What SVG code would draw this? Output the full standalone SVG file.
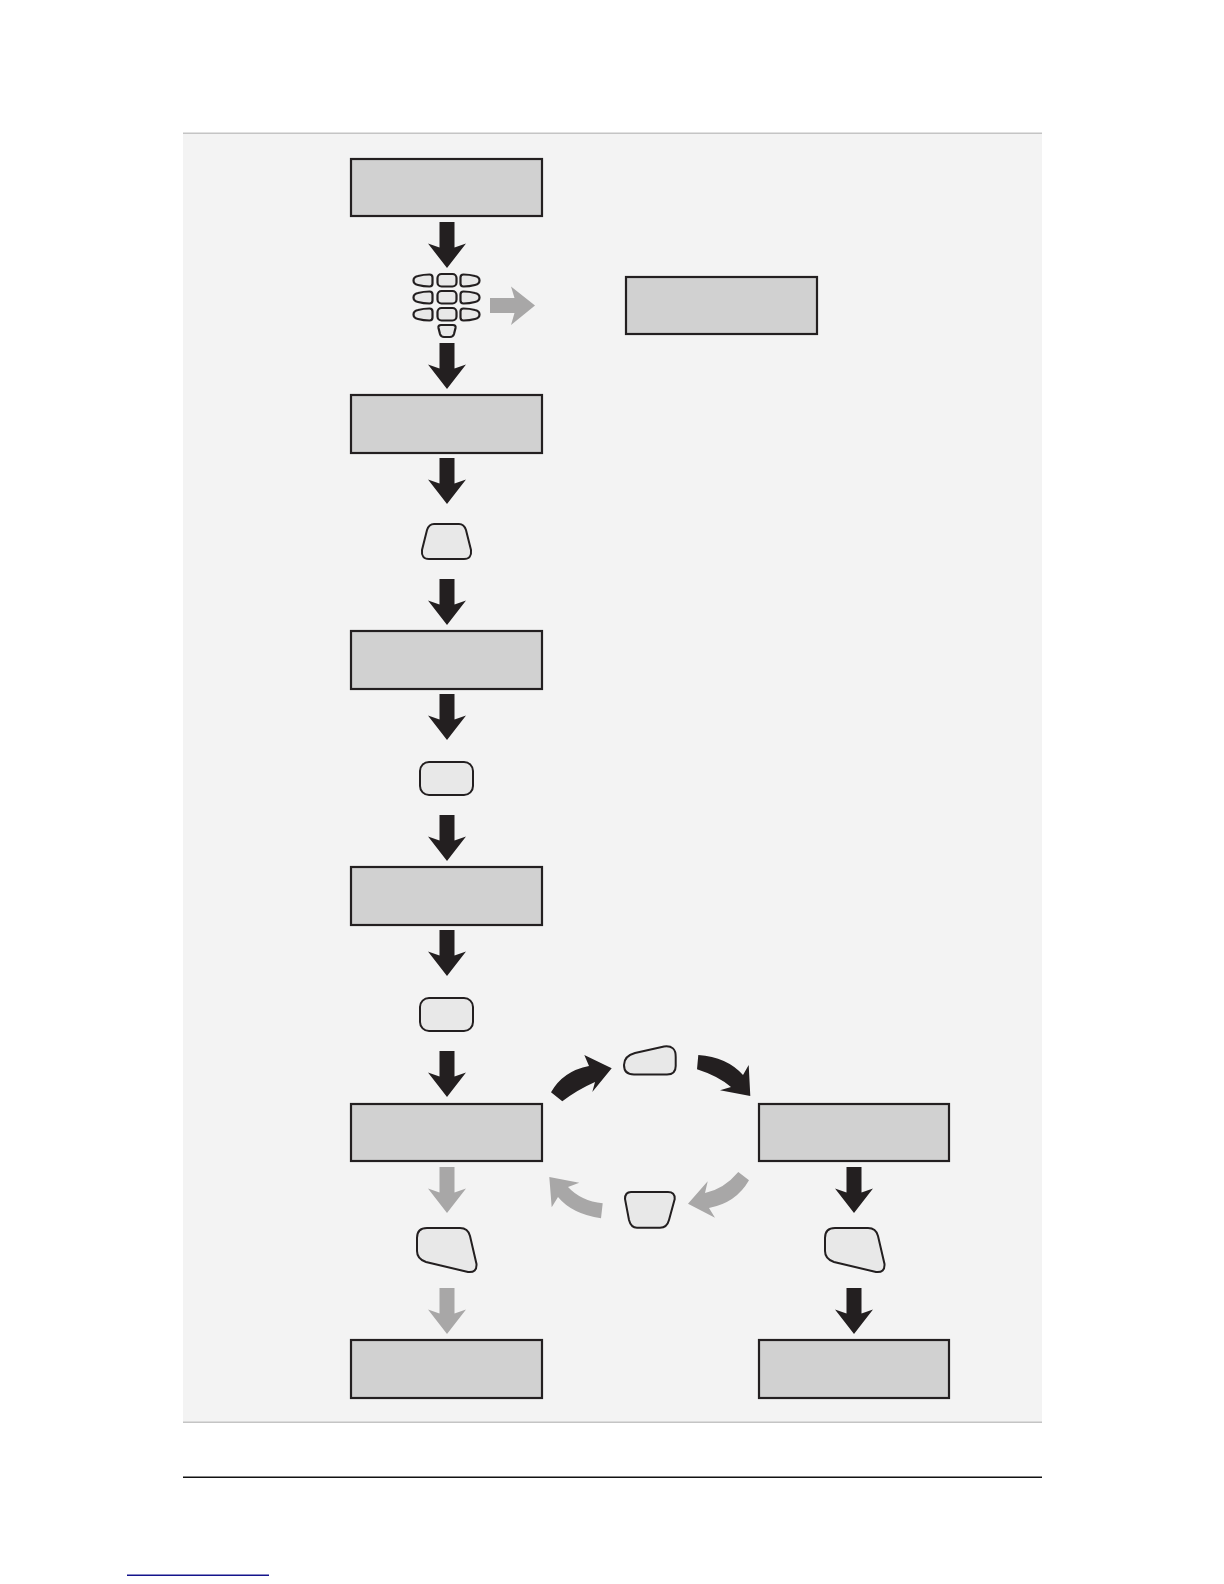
<svg xmlns="http://www.w3.org/2000/svg" width="1224" height="1584" viewBox="0 0 1224 1584">
<style>
.box{fill:#d1d1d1;stroke:#231f20;stroke-width:2.200}
.btn{fill:#e8e8e8;stroke:#231f20;stroke-width:2}
.key{fill:#e8e8e8;stroke:#231f20;stroke-width:2.200}
.dark{fill:#231f20}
.grey{fill:#a8a7a7}
</style>
<defs>
<path id="down" d="M-7.500 0H7.500V25.500L19 21.500L0 46L-19 21.500L-7.500 25.500Z"/>
<path id="keyL" d="M4.500 1.500Q10 0 16 0Q19 0 19 3V9Q19 12 16 12Q10 12 4.500 10.500Q0 9.500 0 6Q0 2.500 4.500 1.500Z"/>
<path id="keyR" d="M14.500 1.500Q9 0 3 0Q0 0 0 3V9Q0 12 3 12Q9 12 14.500 10.500Q19 9.500 19 6Q19 2.500 14.500 1.500Z"/>
</defs>
<rect x="183" y="133" width="859" height="1289" fill="#f3f3f3"/>
<rect x="183" y="132.500" width="859" height="1.500" fill="#c4c4c4"/>
<rect x="183" y="1421.500" width="859" height="1.500" fill="#c4c4c4"/>
<rect x="183" y="1476.500" width="859" height="1.500" fill="#111"/>
<rect x="127" y="1574.500" width="142" height="1.500" fill="#14148c"/>
<g id="connectors">
<use href="#down" class="dark" x="447" y="222"/>
<use href="#down" class="dark" x="447" y="343"/>
<use href="#down" class="dark" x="447" y="458"/>
<use href="#down" class="dark" x="447" y="579"/>
<use href="#down" class="dark" x="447" y="694"/>
<use href="#down" class="dark" x="447" y="815"/>
<use href="#down" class="dark" x="447" y="930"/>
<use href="#down" class="dark" x="447" y="1051"/>
<use href="#down" class="grey" x="447" y="1167"/>
<use href="#down" class="grey" x="447" y="1288"/>
<use href="#down" class="dark" x="854" y="1167"/>
<use href="#down" class="dark" x="854" y="1288"/>
<path class="grey" d="M490 298H514.500L511 286.500L535 305.500L511 325L514.500 313H490Z"/>
<path class="dark" d="M551 1092.300Q563 1071 589 1066L584.300 1055L611.700 1068.300L592.300 1092L595 1082Q577 1090 562.300 1101.300Z"/>
<path class="dark" d="M698.300 1055Q727 1057 743 1075L748.700 1065L750.300 1096L720 1090.300L731 1087Q718 1076 697 1069.300Z"/>
<path class="grey" d="M738.300 1172L749 1180.300Q736 1203 709 1208L715 1217.700L688 1203.700L707.700 1181.300L705 1193Q724 1189 738.300 1172Z"/>
<path class="grey" d="M602.700 1203.300L601 1218.300Q572 1214 558 1197L551.700 1207.300L549.300 1177L579.300 1182.700L568 1187Q581 1201 602.700 1203.300Z"/>
</g>
<g id="box1"><rect class="box" x="351" y="159" width="191" height="57"/></g>
<g id="box2"><rect class="box" x="351" y="395" width="191" height="58"/></g>
<g id="box3"><rect class="box" x="351" y="631" width="191" height="58"/></g>
<g id="box4"><rect class="box" x="351" y="867" width="191" height="58"/></g>
<g id="box5"><rect class="box" x="351" y="1104" width="191" height="57"/></g>
<g id="box6"><rect class="box" x="351" y="1340" width="191" height="58"/></g>
<g id="box7"><rect class="box" x="626" y="277" width="191" height="57"/></g>
<g id="box8"><rect class="box" x="759" y="1104" width="190" height="57"/></g>
<g id="box9"><rect class="box" x="759" y="1340" width="190" height="58"/></g>
<g id="keypad">
<rect class="key" x="437.500" y="274" width="19" height="12.500" rx="4"/>
<rect class="key" x="437.500" y="291" width="19" height="12.500" rx="4"/>
<rect class="key" x="437.500" y="308" width="19" height="12.500" rx="4"/>
<use href="#keyL" class="key" x="413.500" y="274.500"/>
<use href="#keyL" class="key" x="413.500" y="291.500"/>
<use href="#keyL" class="key" x="413.500" y="308.500"/>
<use href="#keyR" class="key" x="460.500" y="274.500"/>
<use href="#keyR" class="key" x="460.500" y="291.500"/>
<use href="#keyR" class="key" x="460.500" y="308.500"/>
<path class="key" d="M441 325H453Q456 325 455.500 328L454 334Q453 337 450 337H444Q441 337 440 334L438.500 328Q438 325 441 325Z"/>
</g>
<g id="btn1"><path class="btn" d="M434 524H459Q464 524 466 530L471 550Q472 559 464 559H429Q421 559 422 550L427 530Q429 524 434 524Z"/></g>
<g id="btn2"><rect class="btn" x="420" y="762" width="53" height="33" rx="9"/></g>
<g id="btn3"><rect class="btn" x="420" y="998" width="53" height="33" rx="9"/></g>
<g id="btn4"><path class="btn" d="M635 1053L664 1046.500Q676 1045 675.700 1057V1066Q675.700 1074.500 667 1074.500H634Q624 1074.500 624 1065Q624 1056 635 1053Z"/></g>
<g id="btn5"><path class="btn" d="M631 1192H668Q675 1192 674.700 1199L669 1220Q667 1227.700 660 1227.700H637Q631 1227.700 629 1220L625 1199Q625 1192 631 1192Z"/></g>
<g id="btn6"><path class="btn" d="M427 1228H460Q468 1228 470 1236L476.500 1264Q477 1273 468 1272L426 1262Q417 1259 417 1251V1238Q417 1228 427 1228Z"/></g>
<g id="btn7"><path class="btn" d="M835 1228H868Q876 1228 878 1236L884.500 1264Q885 1273 876 1272L834 1262Q825 1259 825 1251V1238Q825 1228 835 1228Z"/></g>
</svg>
